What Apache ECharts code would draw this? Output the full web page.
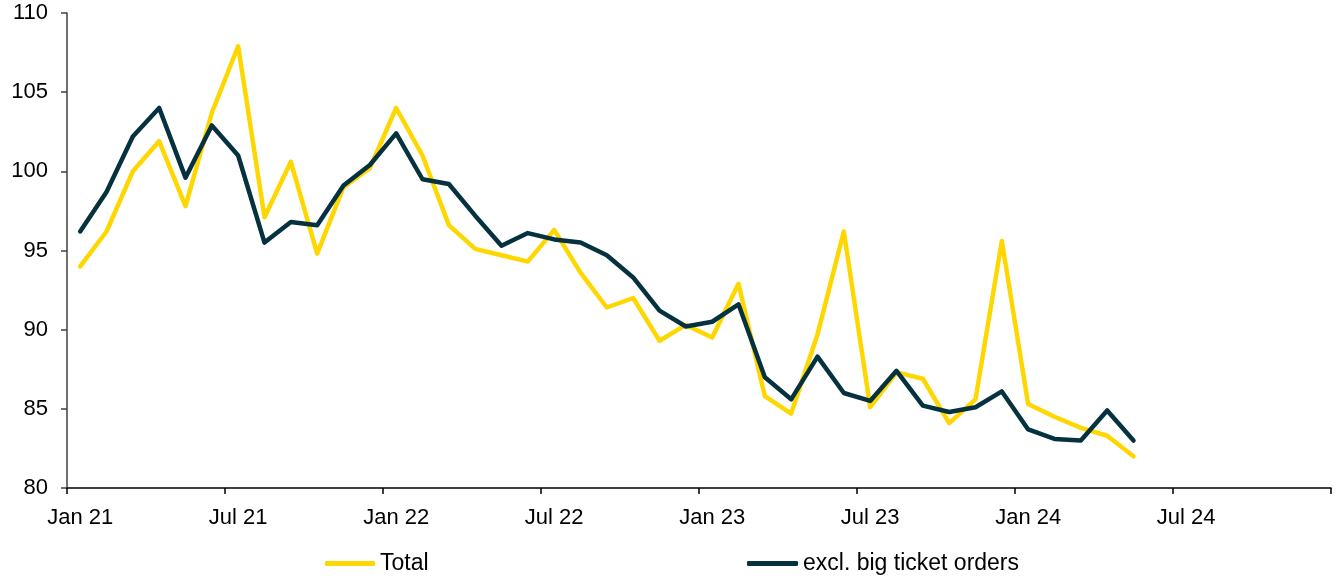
<!DOCTYPE html>
<html>
<head>
<meta charset="utf-8">
<script src="https://cdn.jsdelivr.net/npm/echarts@6/dist/echarts.min.js"></script>
<style>
  html, body { margin: 0; padding: 0; background: #fff; }
  #chart { width: 1338px; height: 580px; }
</style>
</head>
<body>
<div id="chart"></div>
<script>
const categories = [
  "Jan 21","Feb 21","Mar 21","Apr 21","May 21","Jun 21","Jul 21","Aug 21","Sep 21","Oct 21","Nov 21","Dec 21",
  "Jan 22","Feb 22","Mar 22","Apr 22","May 22","Jun 22","Jul 22","Aug 22","Sep 22","Oct 22","Nov 22","Dec 22",
  "Jan 23","Feb 23","Mar 23","Apr 23","May 23","Jun 23","Jul 23","Aug 23","Sep 23","Oct 23","Nov 23","Dec 23",
  "Jan 24","Feb 24","Mar 24","Apr 24","May 24","Jun 24","Jul 24","Aug 24","Sep 24","Oct 24","Nov 24","Dec 24"
];
const totalValues = [94.0,96.2,100.0,101.9,97.8,103.7,107.9,97.1,100.6,94.8,99.0,100.2,
  104.0,101.0,96.6,95.1,94.7,94.3,96.3,93.6,91.4,92.0,89.3,90.3,
  89.5,92.9,85.8,84.7,89.7,96.2,85.1,87.3,86.9,84.1,85.6,95.6,
  85.3,84.5,83.8,83.3,82.0];
const exclValues = [96.2,98.7,102.2,104.0,99.6,102.9,101.0,95.5,96.8,96.6,99.1,100.4,
  102.4,99.5,99.2,97.2,95.3,96.1,95.7,95.5,94.7,93.3,91.2,90.2,
  90.5,91.6,87.0,85.6,88.3,86.0,85.5,87.4,85.2,84.8,85.1,86.1,
  83.7,83.1,83.0,84.9,83.0];
const seriesNames = ["Total", "excl. big ticket orders"];

const FONT = "'Liberation Sans', Arial, sans-serif";
const chart = echarts.init(document.getElementById('chart'), null, { renderer: 'canvas' });
chart.setOption({
  animation: false,
  backgroundColor: '#ffffff',
  grid: { left: 67, right: 7, top: 13, bottom: 92, containLabel: false },
  legend: [
    { data: [seriesNames[0]], left: 320, top: 547, icon: 'roundRect', itemWidth: 50, itemHeight: 5,
      textStyle: { fontFamily: FONT, fontSize: 23, color: '#000' } },
    { data: [seriesNames[1]], left: 742, top: 547, icon: 'roundRect', itemWidth: 51, itemHeight: 5,
      textStyle: { fontFamily: FONT, fontSize: 23, color: '#000' } }
  ],
  xAxis: {
    type: 'category',
    data: categories,
    boundaryGap: true,
    axisLine: { show: true, lineStyle: { color: '#000', width: 1.5 } },
    axisTick: { show: true, interval: 5, length: 6, lineStyle: { color: '#000', width: 1.5 } },
    axisLabel: { interval: 5, margin: 19, fontFamily: FONT, fontSize: 22, color: '#000' },
    splitLine: { show: false }
  },
  yAxis: {
    type: 'value',
    min: 80, max: 110, interval: 5,
    axisLine: { show: true, lineStyle: { color: '#404040', width: 1.5 } },
    axisTick: { show: true, length: 6, lineStyle: { color: '#404040', width: 1.5 } },
    axisLabel: { margin: 19, fontFamily: FONT, fontSize: 22, color: '#000' },
    splitLine: { show: false }
  },
  series: [
    { name: seriesNames[0], type: 'line', data: totalValues, showSymbol: false, symbol: 'none',
      itemStyle: { color: '#FFD700' },
      lineStyle: { color: '#FFD700', width: 4.5, join: 'round', cap: 'round' } },
    { name: seriesNames[1], type: 'line', data: exclValues, showSymbol: false, symbol: 'none',
      itemStyle: { color: '#06323F' },
      lineStyle: { color: '#06323F', width: 4.5, join: 'round', cap: 'round' } }
  ]
});
</script>
</body>
</html>
